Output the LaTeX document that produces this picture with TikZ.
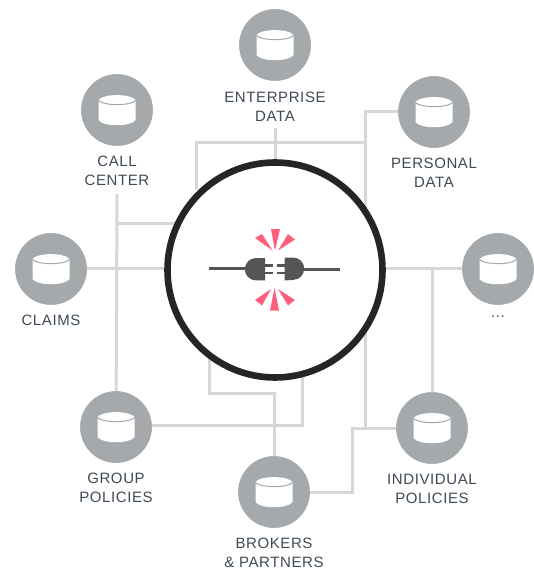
\documentclass[tikz,border=0pt]{standalone}
\usepackage{fontspec}
\setmainfont[LetterSpace=4]{Liberation Sans}
\definecolor{disc}{HTML}{A5A9AC}
\definecolor{wire}{HTML}{D6D7D8}
\definecolor{ring}{HTML}{252525}
\definecolor{plug}{HTML}{555555}
\definecolor{spark}{HTML}{FF5F7C}
\definecolor{label}{HTML}{3F4A55}
\tikzset{
  wireline/.style={draw=wire,line width=3pt},
  dbdisc/.style={circle,fill=disc,minimum size=71.5pt,inner sep=0pt},
  dblabel/.style={text=label,font=\fontsize{15}{18.5}\selectfont,align=center,anchor=north,inner sep=2pt},
  sparkshape/.style={fill=spark},
  plugfill/.style={fill=plug},
  plugwire/.style={draw=plug,line width=2.8pt}
}
\newcommand{\dbicon}[1]{%
  \begin{scope}[shift={(#1)}]
    \fill[white] (-18.5,-10) -- (-18.5,10) .. controls (-14,17) and (14,17) .. (18.5,10) -- (18.5,-10) .. controls (14,-16.5) and (-14,-16.5) .. (-18.5,-10) -- cycle;
    \draw[disc,line width=1pt] (-18.5,-9.5) .. controls (-14,-4) and (14,-4) .. (18.5,-9.5);
  \end{scope}}
\begin{document}
\begin{tikzpicture}[x=1pt,y=-1pt]
\useasboundingbox (0,0) rectangle (534,569);
\node[dbdisc] (ent) at (275,45) {};
\node[dbdisc] (call) at (117,110) {};
\node[dbdisc] (pers) at (434,112) {};
\node[dbdisc] (claims) at (51,269) {};
\node[dbdisc] (more) at (498,269) {};
\node[dbdisc] (group) at (116,427) {};
\node[dbdisc] (indiv) at (432,428) {};
\node[dbdisc] (brok) at (274,492) {};
\coordinate (a1) at (196,142.5); \coordinate (a2) at (365,142.5);
\coordinate (a3) at (196,190); \coordinate (a4) at (365,111.5);
\coordinate (a5) at (365,428); \coordinate (a6) at (275,128); \coordinate (a7) at (275,165);
\coordinate (b1) at (117,194); \coordinate (b2) at (117,223.5); \coordinate (b3) at (175,223.5);
\coordinate (c1) at (432,268.5);
\coordinate (d1) at (302,425); \coordinate (d2) at (302,370);
\coordinate (e1) at (274,393.5); \coordinate (e2) at (209,393.5); \coordinate (e3) at (209,355);
\coordinate (f1) at (352,428); \coordinate (f2) at (352,492);
\coordinate (g1) at (87,268.5); \coordinate (g2) at (170,268.5);
\coordinate (g3) at (380,268.5); \coordinate (g4) at (463,268.5);
\coordinate (g5) at (432,393);
\draw[wireline] (a3) -- (a1) -- (a2);
\draw[wireline] (a6) -- (a7);
\draw[wireline] (pers.west |- a4) -- (a4) -- (a5);
\draw[wireline] (b1) -- (group);
\draw[wireline] (b2) -- (b3);
\draw[wireline] (g1) -- (g2);
\draw[wireline] (g3) -- (g4);
\draw[wireline] (c1) -- (g5);
\draw[wireline] (group.east |- d1) -- (d1) -- (d2);
\draw[wireline] (brok) -- (e1) -- (e2) -- (e3);
\draw[wireline] (indiv) -- (f1) -- (f2) -- (brok);
\foreach \n in {ent,call,pers,claims,more,group,indiv,brok} {\node[dbdisc] at (\n) {}; \dbicon{\n}}
\node[circle,fill=white,draw=ring,line width=6.6pt,minimum size=215pt,inner sep=0pt] (hub) at (275,270) {};
\node[dblabel] (l1) at (275,90) {ENTERPRISE\\DATA};
\node[dblabel] (l2) at (117,154) {CALL\\CENTER};
\node[dblabel] (l3) at (434,156) {PERSONAL\\DATA};
\node[dblabel] (l4) at (51,313) {CLAIMS};
\node[dblabel] (l5) at (498,314) {...};
\node[dblabel] (l6) at (116,471) {GROUP\\POLICIES};
\node[dblabel] (l7) at (432,472) {INDIVIDUAL\\POLICIES};
\node[dblabel] (l8) at (274,536) {BROKERS\\\& PARTNERS};
% plug
\draw[plugwire] (209,268.5) -- (250,268.5);
\draw[plugwire] (300,269.5) -- (340,269.5);
\fill[plugfill] (265,258) -- (256,258) arc[start angle=-90,end angle=-270,radius=11.2] -- (265,280.5) -- cycle;
\fill[plugfill] (284.5,257.5) -- (293,257.5) arc[start angle=-90,end angle=90,radius=11.2] -- (284.5,280.5) -- cycle;
\fill[plugfill] (264,264) rectangle (273,266.5);
\fill[plugfill] (264,271.5) rectangle (273,274);
\fill[plugfill] (277,264) rectangle (285,266.5);
\fill[plugfill] (277,271.5) rectangle (285,274);
% sparks
\fill[sparkshape] (275,250.5) -- (271,229) -- (280,229) -- cycle;
\fill[sparkshape] (272.5,250.5) -- (255,238) -- (262,234) -- cycle;
\fill[sparkshape] (278,250.5) -- (288,234) -- (295,239.5) -- cycle;
\fill[sparkshape] (274.5,288) -- (270,310.5) -- (279,310.5) -- cycle;
\fill[sparkshape] (271,289) -- (255,300) -- (262,305.5) -- cycle;
\fill[sparkshape] (278,289) -- (295,300) -- (288,305.5) -- cycle;
\end{tikzpicture}
\end{document}
